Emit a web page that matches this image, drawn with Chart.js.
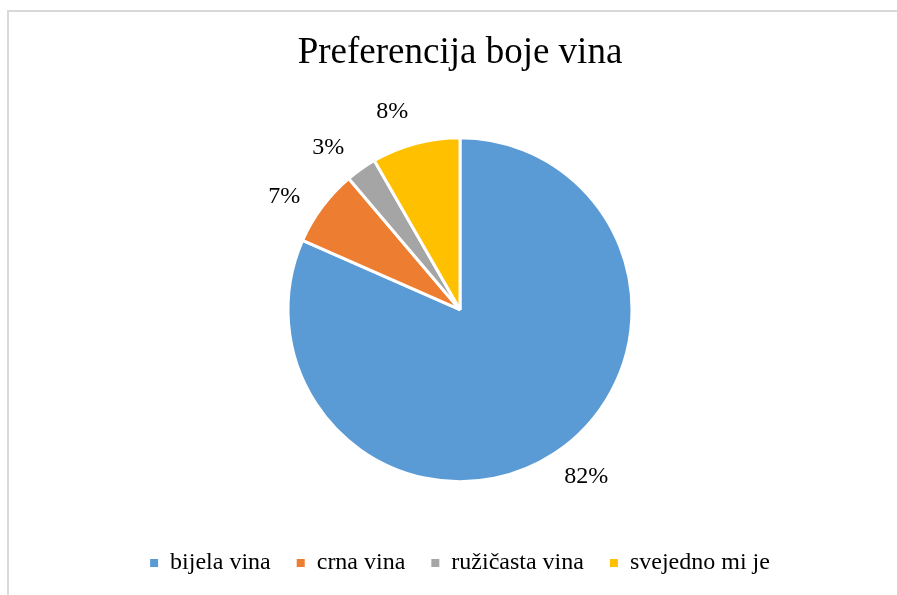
<!DOCTYPE html>
<html>
<head>
<meta charset="utf-8">
<title>Preferencija boje vina</title>
<script src="https://cdn.jsdelivr.net/npm/chart.js@4/dist/chart.umd.min.js"></script>
<style>
    html, body { margin: 0; padding: 0; background: #fff; overflow: hidden; }
    #wrap { position: relative; width: 897px; height: 595px; }
    /* chart frame, only top and left edges show in the picture */
    #frame { position: absolute; left: 7px; top: 10px; width: 1000px; height: 1000px; border: 2px solid #d9d9d9; box-sizing: border-box; }
    #pieChart { position: absolute; left: 0; top: 0; }
</style>
</head>
<body>
<div id="wrap">
    <div id="frame"></div>
    <canvas id="pieChart" width="897" height="595"></canvas>
</div>
<script>
// values (shares in %)
const categories = ['bijela vina', 'crna vina', 'ružičasta vina', 'svejedno mi je'];
const shares = [81.6, 7.2, 2.9, 8.3];
const sliceColors = ['#5b9bd5', '#ed7d31', '#a5a5a5', '#ffc000'];
const chartTitle = 'Preferencija boje vina';

Chart.defaults.font.family = "'Liberation Serif', 'Times New Roman', serif";
Chart.defaults.color = '#000';

/*
 * percent labels outside each slice, placed from the arc elements
 */
const outsideLabels = {
    id: 'outsideLabels',
    afterDatasetsDraw(chart) {
        const ctx = chart.ctx;
        const meta = chart.getDatasetMeta(0);
        const data = chart.data.datasets[0].data;
        const total = data.reduce((a, b) => a + b, 0);
        ctx.save();
        ctx.font = "24px 'Liberation Serif', 'Times New Roman', serif";
        ctx.fillStyle = '#000';
        ctx.textAlign = 'center';
        ctx.textBaseline = 'middle';
        meta.data.forEach((arc, i) => {
            const p = arc.getProps(['x', 'y', 'startAngle', 'endAngle', 'outerRadius'], true);
            const mid = (p.startAngle + p.endAngle) / 2 - 0.07;
            const dist = p.outerRadius + 37;
            const txt = Math.round(data[i] / total * 100) + '%';
            ctx.fillText(txt, p.x + Math.cos(mid) * dist, p.y + Math.sin(mid) * dist);
        });
        ctx.restore();
    }
};

const ctx = document.getElementById('pieChart').getContext('2d');

const pieChart = new Chart(ctx, {
    type: 'pie',
    data: {
        labels: categories,
        datasets: [{
            data: shares,
            backgroundColor: sliceColors,
            borderColor: '#fff',
            borderWidth: 3,
            radius: 172
        }]
    },
    options: {
        responsive: false,
        animation: false,
        layout: {
            padding: { left: 23, right: 0, top: 31, bottom: 10 }
        },
        plugins: {
            title: {
                display: true,
                text: chartTitle,
                color: '#000',
                font: { size: 37, weight: 'normal' },
                padding: { top: 0, bottom: 19 }
            },
            legend: {
                position: 'bottom',
                labels: {
                    color: '#000',
                    font: { size: 24 },
                    boxWidth: 8,
                    boxHeight: 8,
                    padding: 26,
                    generateLabels: (chart) => Chart.overrides.pie.plugins.legend.labels.generateLabels(chart)
                        .map(item => ({ ...item, lineWidth: 0 }))
                }
            },
            tooltip: { enabled: false }
        }
    },
    plugins: [outsideLabels]
});
</script>
</body>
</html>
